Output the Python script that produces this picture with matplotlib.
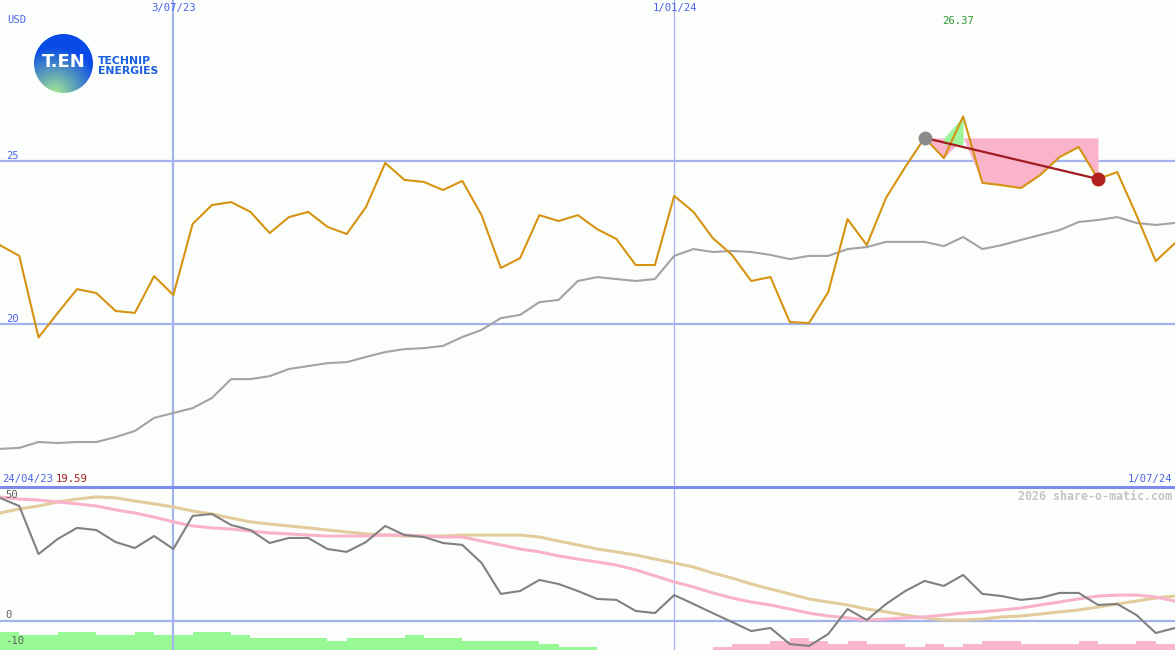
import numpy as np
import matplotlib
matplotlib.use("Agg")
import matplotlib.pyplot as plt
from matplotlib.patches import Circle

# ---------------- data (weekly, 2023-05-01 .. 2024-07-01) ----------------
price = [22.42, 22.09, 19.59, 20.34, 21.07, 20.95, 20.40, 20.34, 21.47, 20.89,
         23.07, 23.65, 23.74, 23.44, 22.79, 23.28, 23.44, 22.98, 22.76, 23.59,
         24.94, 24.42, 24.36, 24.11, 24.39, 23.34, 21.72, 22.02, 23.34, 23.16,
         23.34, 22.91, 22.61, 21.81, 21.81, 23.93, 23.44, 22.64, 22.12, 21.32,
         21.44, 20.06, 20.03, 20.98, 23.22, 22.42, 23.87, 24.82, 25.71, 25.09,
         26.37, 24.33, 24.26, 24.17, 24.57, 25.12, 25.43, 24.45, 24.66, 23.34,
         21.93, 22.48]
price_ma = [16.17, 16.20, 16.38, 16.35, 16.38, 16.38, 16.53, 16.72, 17.12, 17.27,
            17.42, 17.73, 18.31, 18.31, 18.40, 18.62, 18.71, 18.80, 18.83, 18.99,
            19.14, 19.23, 19.26, 19.33, 19.60, 19.82, 20.18, 20.28, 20.67, 20.74,
            21.32, 21.44, 21.38, 21.32, 21.38, 22.09, 22.30, 22.21, 22.24, 22.21,
            22.12, 21.99, 22.09, 22.09, 22.30, 22.36, 22.52, 22.52, 22.52, 22.39,
            22.67, 22.30, 22.42, 22.58, 22.73, 22.88, 23.13, 23.19, 23.28, 23.10,
            23.04, 23.10]
osc = [51.3, 47.9, 27.9, 34.2, 38.8, 37.9, 32.9, 30.4, 35.4, 30.0,
       43.8, 44.6, 40.0, 37.9, 32.5, 34.6, 34.6, 30.0, 28.8, 32.9,
       39.6, 35.8, 35.0, 32.5, 31.7, 24.2, 11.3, 12.5, 17.1, 15.4,
       12.5, 9.2, 8.8, 4.2, 3.3, 10.8, 7.1, 3.3, -0.4, -4.2,
       -2.9, -9.6, -10.4, -5.4, 5.0, 0.4, 7.1, 12.5, 16.7, 14.6,
       19.2, 11.3, 10.4, 8.8, 9.6, 11.7, 11.7, 6.7, 7.1, 2.5,
       -5.0, -2.9]
osc_fast = [51.7, 50.8, 50.4, 49.6, 48.8, 47.9, 46.3, 45.0, 43.3, 41.3,
            39.6, 38.8, 38.3, 37.5, 36.7, 36.3, 35.8, 35.4, 35.4, 35.4,
            35.8, 35.8, 35.4, 35.0, 35.0, 33.3, 31.7, 30.0, 28.8, 27.1,
            25.8, 24.6, 23.3, 21.3, 18.8, 16.3, 14.2, 11.7, 9.6, 7.9,
            6.7, 5.0, 3.3, 2.1, 1.3, 0.4, 0.8, 1.3, 1.7, 2.5,
            3.3, 3.8, 4.6, 5.4, 6.7, 7.9, 9.2, 10.4, 10.8, 10.8,
            10.0, 8.3]
osc_slow = [45.0, 46.7, 47.9, 49.6, 50.8, 51.7, 51.3, 50.0, 48.8, 47.5,
            45.8, 44.6, 42.9, 41.3, 40.4, 39.6, 38.8, 37.9, 37.1, 36.3,
            35.8, 35.4, 35.4, 35.4, 35.8, 35.8, 35.8, 35.8, 35.0, 33.3,
            31.7, 30.0, 28.8, 27.5, 25.8, 24.2, 22.5, 20.0, 17.9, 15.4,
            13.3, 11.3, 9.2, 7.9, 6.7, 5.0, 3.8, 2.5, 1.3, 0.4,
            0.4, 0.8, 1.7, 2.1, 2.9, 3.8, 4.6, 5.8, 7.1, 8.3,
            9.6, 10.4]
bars = [6, 5, 5, 6, 6, 5, 5, 6, 5, 5,
        6, 6, 5, 4, 4, 4, 4, 3, 4, 4,
        4, 5, 4, 4, 3, 3, 3, 3, 2, 1,
        1, 0, 0, 0, 0, 0, 0, -1, -2, -2,
        -3, -4, -3, -2, -3, -2, -2, -1, -2, -1,
        -2, -3, -3, -2, -2, -2, -3, -2, -2, -3,
        -2, -2]
date_ticks = [9, 35]
date_labels = ["3/07/23", "1/01/24"]
start_label, end_label = "24/04/23", "1/07/24"
hi_label, lo_label = "26.37", "19.59"
trade_start, trade_end = 48, 57
price_grid = [20, 25]

W, H = 1175, 650
BG = "#fcfefc"
GRID = "#a4b2f0"
BLUE_TXT = "#4a62e8"
MONO = "DejaVu Sans Mono"

fig = plt.figure(figsize=(W / 100, H / 100), dpi=100, facecolor=BG)
x = np.arange(len(price))
p = np.array(price)

def px(xp, yp):
    return xp / W, 1 - yp / H

# ---------------- top panel ----------------
sep = 487
ax = fig.add_axes([0, 1 - sep / H, 1, sep / H])
ax.set_facecolor(BG)
ax.set_xlim(0, len(x) - 1)
ax.set_ylim(15.0, 29.94)
for s in ax.spines.values():
    s.set_visible(False)
ax.set_xticks([]); ax.set_yticks([])
for g in price_grid:
    ax.axhline(g, color=GRID, lw=1.6, zorder=1)
ax.axvline(date_ticks[0], color=GRID, lw=1.6, zorder=1)
ax.axvline(date_ticks[1], color=GRID, lw=0.9, zorder=1)

level = p[trade_start]
xs = x[trade_start:trade_end + 1]
ps = p[trade_start:trade_end + 1]
ax.fill_between(xs, level, np.minimum(ps, level), color="#f9b4cb", lw=0, zorder=2)
xg = x[trade_start + 1:trade_start + 3]
pg = p[trade_start + 1:trade_start + 3]
ax.fill_between(xg, level - 0.2, np.maximum(pg, level), color="#9ef59a", lw=0, zorder=2)

ax.plot(x, price_ma, color="#a3a3a3", lw=1.5, zorder=3)
ax.plot(x, price, color="#d69311", lw=1.5, zorder=4)
ax.plot([trade_start, trade_end], [p[trade_start], p[trade_end]], color="#a01c22", lw=1.6, zorder=5)
ax.plot(trade_start, p[trade_start], "o", ms=9, color="#8a8a8a", zorder=6)
ax.plot(trade_end, p[trade_end], "o", ms=9, color="#b0201c", zorder=6)

# ---------------- bottom panel ----------------
bx = fig.add_axes([0, 0, 1, 1 - sep / H])
bx.set_facecolor(BG)
bx.set_xlim(0, len(x) - 1)
ylo = -12.08
bx.set_ylim(ylo, 55.83)
for s in bx.spines.values():
    s.set_visible(False)
bx.set_xticks([]); bx.set_yticks([])
b = np.array(bars)
bx.bar(x[b > 0], b[b > 0] * 1.25, bottom=ylo, width=1.0, align="edge", color="#98f994", lw=0, zorder=1)
bx.bar(x[b < 0], -b[b < 0] * 1.25, bottom=ylo, width=1.0, align="edge", color="#f9b6cc", lw=0, zorder=1)
bx.axhline(0, color=GRID, lw=1.6, zorder=2)
bx.axvline(date_ticks[0], color=GRID, lw=1.6, zorder=2)
bx.axvline(date_ticks[1], color=GRID, lw=0.9, zorder=2)
bx.plot(x, osc_slow, color="#e3cc9c", lw=2.2, zorder=3)
bx.plot(x, osc_fast, color="#f9b3c9", lw=2.2, zorder=3)
bx.plot(x, osc, color="#808080", lw=1.5, zorder=4)

# separator
fig.add_artist(plt.Line2D([0, 1], [1 - sep / H, 1 - sep / H], color="#7d8bf0", lw=2.2))

# ---------------- texts ----------------
def t(xp, yp, s, color=BLUE_TXT, ha="left", size=7.6, weight="normal", family=MONO):
    fig.text(*px(xp, yp), s, color=color, ha=ha, va="center", fontsize=size,
             family=family, fontweight=weight)

t(7, 20, "USD")
t(174, 8, date_labels[0], ha="center")
t(675, 8, date_labels[1], ha="center")
t(958, 21, hi_label, color="#2e9a2e", ha="center")
t(6, 156, "25")
t(6, 319, "20")
t(2, 479, start_label)
t(56, 479, lo_label, color="#a01c22")
t(1172, 479, end_label, ha="right")
t(1172, 496, "2026 share-o-matic.com", color="#c4c4c4", ha="right", size=8.4, weight="bold")
t(5, 495, "50", color="#606060")
t(5, 615, "0", color="#606060")
t(5, 641, "-10", color="#606060")

# ---------------- logo ----------------
lx = fig.add_axes([34 / W, 1 - 93 / H, 59 / W, 59 / H])
lx.set_xlim(0, 1); lx.set_ylim(0, 1); lx.axis("off")
n = 200
gx, gy = np.meshgrid(np.linspace(0, 1, n), np.linspace(1, 0, n))
d = np.hypot(gx - 0.35, gy + 0.02)
tt = np.clip(1 - d / 0.8, 0, 1) ** 1.0
c1 = np.array([0x08, 0x4a, 0xe8]) / 255
c2 = np.array([0xa8, 0xec, 0x90]) / 255
img = c1[None, None, :] * (1 - tt[..., None]) + c2[None, None, :] * tt[..., None]
im = lx.imshow(img, extent=[0, 1, 0, 1], interpolation="bilinear", aspect="auto")
circ = Circle((0.5, 0.5), 0.5, transform=lx.transData)
im.set_clip_path(circ)
lx.text(0.5, 0.53, "T.EN", color="white", ha="center", va="center", fontsize=13,
        fontweight="bold", family="DejaVu Sans")
t(98, 61, "TECHNIP", color="#1a5fe0", size=7.8, weight="bold", family="DejaVu Sans")
t(98, 71, "ENERGIES", color="#1a5fe0", size=7.8, weight="bold", family="DejaVu Sans")

fig.savefig("out.png", dpi=100, facecolor=BG)
